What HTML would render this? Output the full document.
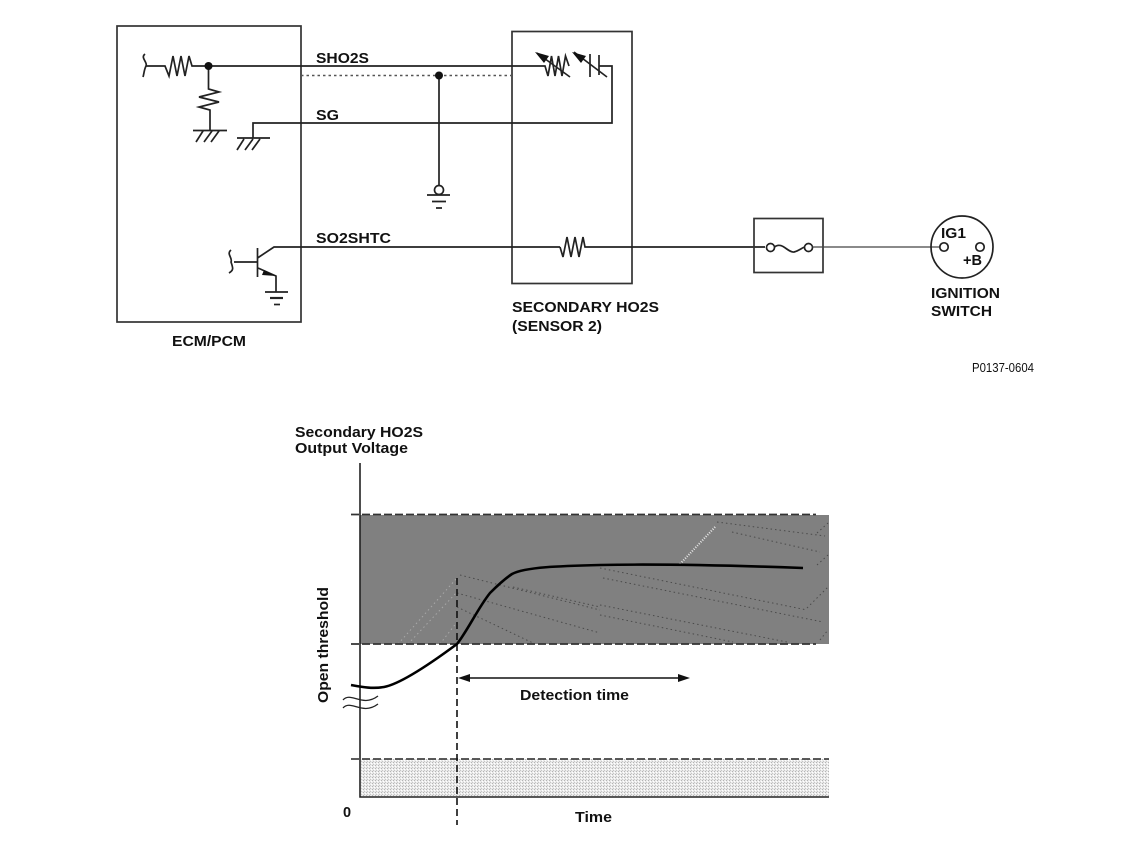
<!DOCTYPE html>
<html><head><meta charset="utf-8"><style>
html,body{margin:0;padding:0;background:#fff}
svg{display:block;filter:blur(.3px)}
text{font-family:"Liberation Sans",sans-serif;fill:#111}
.b{font-weight:bold;font-size:14.5px}
</style></head><body>
<svg width="1141" height="855" viewBox="0 0 1141 855" xmlns="http://www.w3.org/2000/svg">
<defs>
<pattern id="st" width="3" height="3" patternUnits="userSpaceOnUse"><rect width="3" height="3" fill="#eaeaea"/><rect width="1" height="1" fill="#b4b4b4"/><rect x="2" y="1" width="1" height="1" fill="#fff"/><rect x="1" y="2" width="1" height="1" fill="#c6c6c6"/></pattern>
<clipPath id="gc"><rect x="361" y="516" width="468" height="127"/></clipPath>
</defs>
<g fill="none" stroke="#222" stroke-width="1.700">
<rect x="117" y="26" width="184" height="296" stroke="#333"/>
<rect x="512" y="31.500" width="120" height="252" stroke="#333"/>
<path d="M146 66H165L169 76L173 56L177 76L181 56L185 76L189 56L192 66H208H545L548 76L551.500 56L555 76L558.500 56L562 76L565.500 56L569 66"/>
<path d="M145 54C140 58 148 62 146 66C144 70 144 74 143 77"/>
<path d="M208.500 66V89L219 92L199 97L219 102L199 107L210 110V130"/>
<path d="M193 130.500H227M196 142L203 131M204 142L212 131M211 142L219 131"/>
<path d="M253 138V123H612V66H599"/>
<path d="M237 138H270M237 150L244 139M245 150L253 139M252 150L260 139"/>
<path d="M301 75.500H512" stroke="#555" stroke-width="1.600" stroke-dasharray="2.500 3"/>
<path d="M439 75V185"/>
<circle cx="439" cy="190" r="4.500" fill="#fff"/>
<path d="M427 195H450M432 201.500H446M436 208H442"/>
<path d="M537 53L570 77" stroke-width="1.700"/>
<path d="M590 54V77M599 55V75"/>
<path d="M574 52L607 77" stroke-width="1.700"/>
<path d="M257.500 248V277M234 262H257.500M257.500 258L274 247H560"/>
<path d="M231 250C226 254 233 258 231 262C233 268 234 270 229 273"/>
<path d="M258 268L276 276V292M265 292H288"/>
<path d="M270 298H283" stroke-width="2.200"/><path d="M274 304.500H280" stroke-width="1.700"/>
<path d="M560 247L563 257L567 237L571 257L575 237L579 257L583 237L585 247H765"/>
<rect x="754" y="218.500" width="69" height="54" stroke="#333"/>
<circle cx="770.500" cy="247.500" r="4" fill="#fff"/><circle cx="808.500" cy="247.500" r="4" fill="#fff"/>
<path d="M774.500 247C782 241 788 253 794 252C798 251 802 248 804.500 247"/>
<path d="M812.500 247H940" stroke="#444" stroke-width="1.200"/>
<circle cx="962" cy="247" r="31"/>
<circle cx="944" cy="247" r="4.200" fill="#fff"/><circle cx="980" cy="247" r="4.200" fill="#fff"/>
</g>
<circle cx="208.500" cy="66" r="4" fill="#111"/>
<circle cx="439" cy="75.500" r="4" fill="#111"/>
<path d="M535 52L549 56L544 63Z M572 52L586 56L581 63Z" fill="#111"/>
<path d="M264 270L276 276L262 275Z" fill="#111"/>
<text class="b" x="316" y="63" textLength="53" lengthAdjust="spacingAndGlyphs">SHO2S</text>
<text class="b" x="316" y="120" textLength="23" lengthAdjust="spacingAndGlyphs">SG</text>
<text class="b" x="316" y="243" textLength="75" lengthAdjust="spacingAndGlyphs">SO2SHTC</text>
<text class="b" x="172" y="346" textLength="74" lengthAdjust="spacingAndGlyphs">ECM/PCM</text>
<text class="b" x="512" y="312" textLength="147" lengthAdjust="spacingAndGlyphs">SECONDARY HO2S</text>
<text class="b" x="512" y="331" textLength="90" lengthAdjust="spacingAndGlyphs">(SENSOR 2)</text>
<text class="b" x="941" y="238" textLength="25" lengthAdjust="spacingAndGlyphs">IG1</text>
<text class="b" x="963" y="265" textLength="19" lengthAdjust="spacingAndGlyphs">+B</text>
<text class="b" x="931" y="298" textLength="69" lengthAdjust="spacingAndGlyphs">IGNITION</text>
<text class="b" x="931" y="316" textLength="61" lengthAdjust="spacingAndGlyphs">SWITCH</text>
<text x="972" y="372" font-size="12.500" textLength="62" lengthAdjust="spacingAndGlyphs">P0137-0604</text>
<rect x="360" y="515" width="469" height="129" fill="#808080"/>
<rect x="361" y="759" width="468" height="38" fill="url(#st)"/>
<g fill="none" stroke-width="1" stroke-dasharray="1.500 3" clip-path="url(#gc)">
<path d="M398 644L457 578M408 644L457 592M440 644L457 622" stroke="#a8a8a8"/>
<path d="M460 575L600 610M457 593L600 633M457 607L533 643M513 587L600 607M600 568L807 610M603 578L823 622M600 605L787 642M600 615L733 642M732 532L820 552M717 522L825 536M807 608L828 587M817 533L828 523M817 565L828 555M820 640L828 630" stroke="#4a4a4a"/>
<path d="M680 564L716 526" stroke="#e8e8e8" stroke-width="2" stroke-dasharray="1 1.500"/>
</g>
<g fill="none" stroke="#222">
<path d="M360 463V797H829" stroke-width="1.600"/>
<path d="M351 514.500H816" stroke-width="1.700" stroke-dasharray="8 3" stroke="#333"/>
<path d="M351 644H816" stroke-width="1.700" stroke-dasharray="8 3" stroke="#333"/>
<path d="M351 759H829" stroke-width="1.700" stroke-dasharray="8 3" stroke="#444"/>
<path d="M457 578V825" stroke-width="1.600" stroke-dasharray="7 4" stroke="#111"/>
<path d="M351 685C362 687 372 689 384 687C400 684 430 664 457 644C468 630 478 608 490 593C498 585 506 578 512 574C525 567 560 566 600 565C650 564 720 565 803 568" stroke="#000" stroke-width="2.600"/>
<path d="M343 700C351 691 362 708 378 696M343 708C351 699 362 716 378 704" stroke-width="1.300"/>
<path d="M466 678H682" stroke-width="1.500" stroke="#111"/>
</g>
<path d="M458 678L470 674V682Z M690 678L678 674V682Z" fill="#111"/>
<text class="b" x="295" y="437" textLength="128" lengthAdjust="spacingAndGlyphs">Secondary HO2S</text>
<text class="b" x="295" y="453" textLength="113" lengthAdjust="spacingAndGlyphs">Output Voltage</text>
<text class="b" x="520" y="700" textLength="109" lengthAdjust="spacingAndGlyphs">Detection time</text>
<text class="b" x="575" y="822" textLength="37" lengthAdjust="spacingAndGlyphs">Time</text>
<text class="b" x="343" y="817">0</text>
<text class="b" transform="translate(328 703) rotate(-90)" x="0" y="0" textLength="116" lengthAdjust="spacingAndGlyphs">Open threshold</text>
</svg>
</body></html>
